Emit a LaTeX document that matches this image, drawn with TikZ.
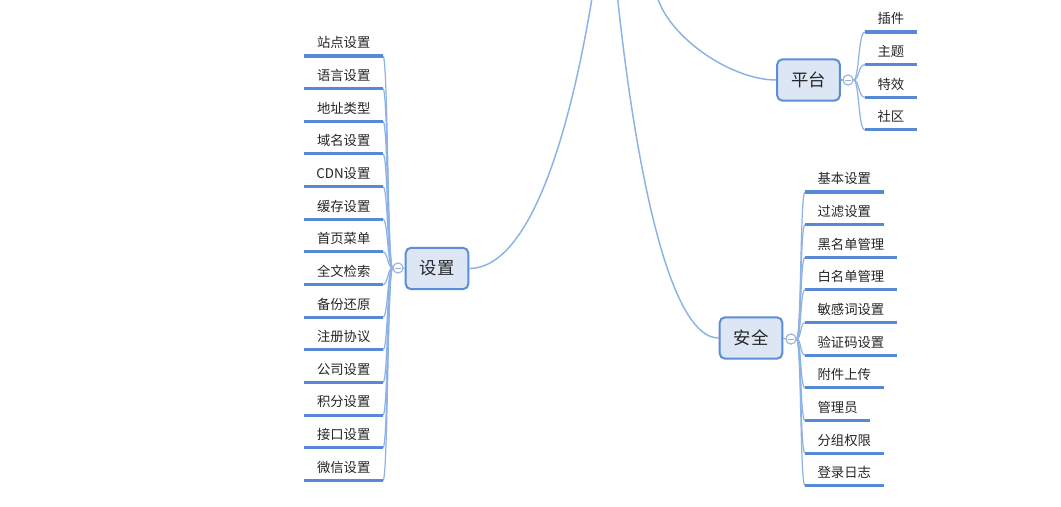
\documentclass[tikz,border=0pt]{standalone}
\usepackage{fontspec}
\setmainfont{Noto Sans CJK SC}
\begin{document}
\begin{tikzpicture}[x=0.75pt,y=-0.75pt,
  txt/.style={text=black!85},
  leaf/.style={txt, font=\fontsize{10pt}{12pt}\selectfont, inner xsep=9.25pt, inner ysep=4.75pt, text height=8.8pt, text depth=1.2pt},
  uline/.style={draw=ucol, line width=2.3pt},
  conn/.style={draw=ccol, line width=0.9pt},
  mainconn/.style={draw=ccol, line width=1.1pt},
  topic/.style={txt, draw=bcol, fill=bfill, line width=1.5pt, rounded corners=4pt, minimum width=47pt, minimum height=31pt, font=\fontsize{13pt}{15pt}\selectfont},
  toggle/.style={circle, draw=tcol, fill=white, line width=0.7pt, minimum size=7.5pt, inner sep=0pt},
  tminus/.style={draw=tcol, line width=0.7pt}
]
\definecolor{ucol}{RGB}{86,137,214}
\definecolor{ccol}{RGB}{140,178,230}
\definecolor{bcol}{RGB}{91,142,214}
\definecolor{bfill}{RGB}{220,230,244}
\definecolor{tcol}{RGB}{150,175,215}
\useasboundingbox (0,0) rectangle (1061,507);
\clip (0,0) rectangle (1061,507);
\fill[white] (0,0) rectangle (1061,507);

% off-canvas root attachment points
\coordinate (r1) at (593,-8);
\coordinate (r2) at (617,-8);
\coordinate (r3) at (656,-8);

% main topics
\node[topic] (sz) at (437,268.5) {设置};
\node[topic] (pt) at (808.5,80) {平台};
\node[topic] (aq) at (751,338) {安全};

\draw[mainconn] (sz.east) .. controls (545,268) and (582,60) .. (r1);
\draw[mainconn] (aq.west) .. controls (660,338) and (628,100) .. (r2);
\draw[mainconn] (pt.west) .. controls (730,80) and (665,35) .. (r3);

% toggles
\node[toggle] (tsz) at (398,268) {};
\node[toggle] (tpt) at (848,80) {};
\node[toggle] (taq) at (791,339) {};
\draw[conn] (sz.west) -- (tsz.east);
\draw[conn] (pt.east) -- (tpt.west);
\draw[conn] (aq.east) -- (taq.west);

% left leaves (设置)
\foreach \t [count=\i from 0] in {站点设置,语言设置,地址类型,域名设置,CDN设置,缓存设置,首页菜单,全文检索,备份还原,注册协议,公司设置,积分设置,接口设置,微信设置} {
  \node[leaf, anchor=south east] (s\i) at (383,{56+32.65*\i}) {\t};
  \draw[conn] (tsz.west) .. controls +(-5,0) and +(5,0) .. (s\i.south east);
  \draw[uline] (s\i.south west) -- (s\i.south east);
}

% right leaves (平台)
\foreach \t [count=\i from 0] in {插件,主题,特效,社区} {
  \node[leaf, anchor=south west] (p\i) at (865,{32+32.65*\i}) {\t};
  \draw[conn] (tpt.east) .. controls +(6,0) and +(-7,0) .. (p\i.south west);
  \draw[uline] (p\i.south west) -- (p\i.south east);
}

% right leaves (安全)
\foreach \t [count=\i from 0] in {基本设置,过滤设置,黑名单管理,白名单管理,敏感词设置,验证码设置,附件上传,管理员,分组权限,登录日志} {
  \node[leaf, anchor=south west] (a\i) at (805,{192+32.65*\i}) {\t};
  \draw[conn] (taq.east) .. controls +(5,0) and +(-5,0) .. (a\i.south west);
  \draw[uline] (a\i.south west) -- (a\i.south east);
}

% toggle circles on top, with minus signs
\foreach \n in {tsz,tpt,taq} {
  \draw[tcol, fill=white, line width=0.7pt] (\n) circle (3.75pt);
  \draw[tminus] ([xshift=-1.9pt]\n.center) -- ([xshift=1.9pt]\n.center);
}
\end{tikzpicture}
\end{document}
